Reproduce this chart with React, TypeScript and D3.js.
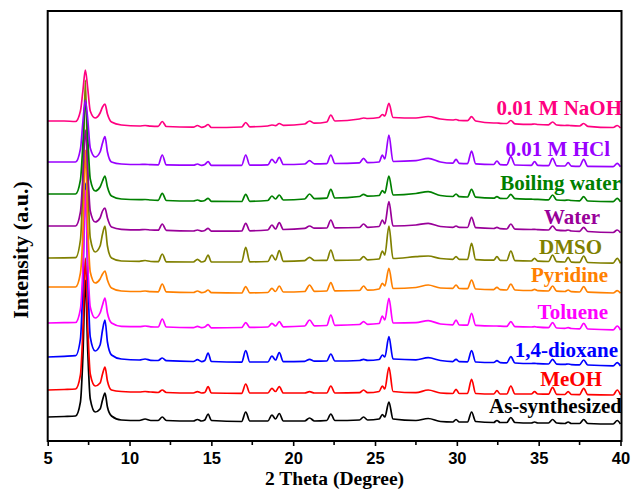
import { useEffect, useRef } from "react";
import * as d3 from "d3";

// 2 theta sample positions shared by every pattern
const theta = [
  5, 6, 6.7, 7.0, 7.15, 7.3, 7.45, 7.6, 7.9, 8.2, 8.35, 8.5, 8.65, 8.9, 9.5,
  10.6, 10.95, 11.3, 11.75, 12.0, 12.25,
  13.9, 14.15, 14.4, 14.6, 14.8, 15.0,
  16.85, 17.1, 17.35,
  18.45, 18.7, 18.92, 19.15, 19.4,
  20.7, 21.0, 21.3,
  22.05, 22.3, 22.55,
  24.05, 24.3, 24.55,
  25.25, 25.45, 25.6, 25.85, 26.1,
  27.5, 28.25, 29.0,
  29.75, 29.95, 30.15,
  30.65, 30.9, 31.15,
  32.25, 32.45, 32.65,
  33.05, 33.3, 33.55,
  34.55, 34.75, 34.95,
  35.6, 35.85, 36.1,
  36.6, 36.8, 37.0,
  37.5, 37.75, 38.0,
  39.55, 39.8, 40.0,
];

// intensities (a.u.), relative to its own offset
const asSynthesized = [0, 0.5, 1, 15, 60, 137, 65, 18, 5, 8, 17, 24, 10, 1, -3,
  -3.5, -2, -3.5, -3.5, 0, -3.5,
  -4, -2.5, -4, -3, 3, -3.5,
  -4.5, 5, -4,
  -4, 2, -2, 3.5, -4,
  -4, -1, -4,
  -3.5, 3, -3.5,
  -3, 0, -3,
  -2, 2.5, 0, 15, -2,
  -3.5, -1.5, -4.5,
  -5, -2.5, -5,
  -5, 5, -4.5,
  -5.5, -3.5, -5.5,
  -5.5, -0.5, -5.5,
  -6, -5, -6,
  -6, -2.5, -6,
  -6.5, -5, -6.5,
  -6.5, -2.5, -6.5,
  -7, -3.5, -7];
const meoh = [0, 0.5, 1, 15, 60, 132, 62, 16, 4, 7, 16, 23, 9, 0, -1.5,
  -2, -1.5, -2, -2.5, 0, -2.5,
  -3, -1.7, -3, -2.5, 3.3, -3,
  -3.3, 6, -3,
  -3, 1.7, -1.5, 3.3, -3,
  -3, -1.7, -3,
  -3, 4, -3,
  -2.7, 0, -2.7,
  -1.5, 4, 1, 22.7, -1.5,
  -2.7, 0, -3,
  -3.5, 0.7, -3.5,
  -3.5, 10.7, -3.5,
  -4, -0.7, -4,
  -4, 4, -4,
  -4, -1.7, -4,
  -4.2, 2.7, -4.3,
  -4.5, -1.7, -4.5,
  -4.6, 1.7, -4.7,
  -5, 0, -5];
const dioxane = [0, 0.7, 1.3, 18, 75, 174, 80, 20, 6, 12, 27, 37, 15, 2, -2,
  -3, -2, -3.3, -3.5, -1, -3.7,
  -4.5, -2.7, -4.6, -3.5, 4, -4.5,
  -5.2, 6.3, -5,
  -5, 1, -3, 4.3, -4.6,
  -4.3, -2.3, -4.2,
  -4, 3, -4,
  -3.5, -2.3, -3.4,
  -2.5, 2, 0, 20.3, -2,
  -2.8, -0.7, -3.5,
  -4.6, -2.3, -4.7,
  -4.8, 6.3, -5,
  -5.5, -3.7, -5.6,
  -5.8, 0.3, -6,
  -6.5, -6.3, -6.7,
  -7, -2.3, -7.1,
  -7.4, -7, -7.6,
  -7.8, -3, -8,
  -8.8, -5.7, -9];
const toluene = [0, 0.3, 0.5, 14, 55, 133, 60, 16, 5, 10, 18, 25, 10, 0, -3.3,
  -3.7, -3, -3.8, -4, 4, -4,
  -4.6, -3.3, -4.7, -4, -1.7, -4.8,
  -4.5, 0.3, -4.4,
  -4, -0.3, -3, 1.3, -3.8,
  -3, 3, -2.8,
  -2.5, 8, -2.3,
  -1.5, 1.3, -1.3,
  -0.5, 7, 3, 24.7, 0,
  0.4, 2.3, -1,
  -1.8, 3, -2,
  -2.2, 9.7, -2.4,
  -3, -3, -3.2,
  -3.4, 1.3, -3.6,
  -4, -3.7, -4.2,
  -4.7, 0.3, -5,
  -5.3, -4.7, -5.5,
  -5.8, -0.3, -6,
  -6.8, -3, -7];
const pyridine = [0, 0, 0, 14, 55, 137, 60, 15, 4, 8, 13, 16, 7, -1, -4,
  -4.5, -4, -4.7, -4.8, 3, -4.9,
  -5.5, -4, -5.6, -5, -3, -5.7,
  -6, 0.3, -5.8,
  -5.5, -1.3, -4.5, 1, -5,
  -4.5, 2, -4.3,
  -4, 4.3, -3.9,
  -3.5, 1, -3.2,
  -2, 3.7, 1, 18.7, -1.5,
  -0.5, 2, -1,
  -1.3, 2, -1.5,
  -1.7, 7, -2,
  -2.6, -0.3, -2.7,
  -3, 3, -3,
  -3.5, -2.3, -3.7,
  -4, 1, -4.2,
  -4.5, -3, -4.7,
  -5, 0.3, -5.2,
  -6, -3.7, -6.3];
const dmso = [0, 0.2, 0.3, 18, 75, 178, 80, 20, 6, 12, 24, 32, 12, 0, -3,
  -3.3, -2.5, -3.5, -3.7, 4, -3.8,
  -4, -1.3, -4, -3, 3, -4,
  -4, 10.7, -3.8,
  -3.5, 3, -2, 7.3, -3.3,
  -2.6, 0.7, -2.5,
  -2.4, 8, -2.3,
  -2, 1.3, -1.8,
  -1, 7, 3, 32, -0.5,
  1.3, 2, -0.5,
  -1.3, 1.3, -1.4,
  -1.5, 14.7, -1.7,
  -2.2, 1.3, -2.3,
  -2.5, 7, -2.7,
  -3, -0.3, -3.2,
  -3.5, 3, -3.7,
  -4, 0.7, -4.2,
  -4.4, 2, -4.5,
  -5.1, -0.3, -5.3];
const water = [0, 0, 0, 14, 50, 96, 55, 15, 4, 8, 15, 18, 8, -1, -3.3,
  -3.8, -3.5, -4, -4.2, 2, -4.3,
  -5, -4, -5.1, -4.5, -2.3, -5.2,
  -5, 2.7, -4.8,
  -4, 1, -3, 3.3, -3.5,
  -2.4, 0, -2.2,
  -2, 6, -1.9,
  -1.5, 2, -1.3,
  -0.5, 6, 2, 24.3, 0,
  1, 2.7, -0.5,
  -1.3, 0, -1.4,
  -1.5, 8.7, -1.7,
  -2.5, -1.3, -2.6,
  -3, 2, -3.1,
  -3.5, -3.3, -3.7,
  -4, 0, -4.2,
  -4.7, -4, -5,
  -5.3, -1.3, -5.5,
  -6.5, -4, -6.7];
const boilingWater = [0, 0, 0, 14, 50, 94, 55, 15, 3, 7, 13, 18, 7, -2, -5,
  -5.7, -5.5, -6, -6.3, 0.7, -6.5,
  -7, -6, -7.2, -6.5, -4.3, -7.3,
  -7.5, -0.3, -7.3,
  -6.5, -2, -5, -1, -6,
  -5, 0, -4.7,
  -4.2, 4.7, -4,
  -2.5, -0.3, -2.2,
  -1.5, 3.3, 1, 18, -1,
  0.5, 2.3, -1.5,
  -2.5, 0, -2.7,
  -3, 4.7, -3.2,
  -4.2, -2.7, -4.3,
  -4.5, -0.3, -4.7,
  -5.2, -5.3, -5.4,
  -5.8, -1, -6,
  -6.3, -6, -6.5,
  -6.8, -2.7, -7,
  -7.6, -4.3, -7.7];
const hcl = [0, 0, 0, 13, 40, 62, 42, 14, 5, 10, 19, 25.3, 10, 0, -2,
  -2.5, -2.3, -2.7, -2.8, 7, -2.9,
  -3.2, -2, -3.3, -2.5, 0.3, -3.4,
  -3.3, 7, -3.2,
  -2.8, 2.7, -1, 4.7, -2.5,
  -2, 1.3, -1.8,
  -1.6, 7, -1.5,
  -0.8, 3.7, -0.6,
  0, 7, 3, 27, 0.5,
  1.3, 3.7, 0,
  -1.2, 2.7, -1.4,
  -1.6, 11, -1.8,
  -2.5, 1, -2.6,
  -2.8, 5.3, -3,
  -3.3, 0.3, -3.4,
  -3.6, 3.7, -3.8,
  -4, -0.7, -4.1,
  -4.3, 2.7, -4.4,
  -4.6, -1.3, -4.7];
const naoh = [0, 0, -0.5, 10, 30, 51, 32, 10, 3, 8, 14, 17, 7, -1, -4,
  -5, -4.5, -5.2, -5.4, -0.5, -5.5,
  -6.2, -4.5, -6.3, -5.5, -3.5, -6.5,
  -6, -1.5, -5.8,
  -5, -4, -4.6, -2.5, -4.3,
  -3, 0, -2.2,
  -1, 6, 0,
  2, 3, 2.5,
  3.5, 6.5, 5, 17.7, 3.5,
  3, 4.5, 2,
  1, 1.5, 0.5,
  0.3, 4.3, 0,
  -2, -2, -2.3,
  -2.5, 0.5, -2.8,
  -3.3, -3, -3.5,
  -3.8, -1, -4,
  -4.5, -4.3, -4.7,
  -5, -2.5, -5.3,
  -6.5, -4.5, -7];

const sampleNames = ["As-synthesized", "MeOH", "1,4-dioxane", "Toluene", "Pyridine", "DMSO", "Water", "Boiling water", "0.01 M HCl", "0.01 M NaOH"];
const patterns = [asSynthesized, meoh, dioxane, toluene, pyridine, dmso, water, boilingWater, hcl, naoh];
// vertical stacking offset of each pattern (a.u.)
const offsets = [24, 51, 84, 118, 154, 183, 215, 247, 279, 320];
const colors = ["#000000", "#ff0000", "#0000ff", "#ff00ff", "#ff8000", "#808000", "#990099", "#008000", "#9900ff", "#ff0080"];

const xTicks = [5, 10, 15, 20, 25, 30, 35, 40];
const xMinor = [7.5, 12.5, 17.5, 22.5, 27.5, 32.5, 37.5];

// label anchors: right edge x and baseline y in px
const labelPos = [[622, 413], [602, 386], [618, 357], [608, 319], [608, 282], [602, 254], [600, 224], [621, 190], [610, 156], [622, 115]];

function App() {
  const ref = useRef<SVGSVGElement>(null);

  useEffect(() => {
    const left = 47.7, right = 621.5, top = 11, bottom = 441;

    const svg = d3.select(ref.current);
    svg.selectAll("*").remove();

    const x = d3.scaleLinear().domain([5, 40]).range([left, right - 1]);
    const y = d3.scaleLinear().domain([0, 430]).range([bottom, top]);

    const g = svg.append("g");

    // patterns
    patterns.forEach((vals, i) => {
      const line = d3.line<number>()
        .x((d, k) => x(theta[k]))
        .y((d) => y(offsets[i] + d))
        .curve(d3.curveMonotoneX);
      g.append("path")
        .attr("d", line(vals))
        .attr("fill", "none")
        .attr("stroke", colors[i])
        .attr("stroke-width", 1.7)
        .attr("stroke-linejoin", "round");
    });

    // labels
    sampleNames.forEach((name, i) => {
      g.append("text")
        .attr("x", labelPos[i][0])
        .attr("y", labelPos[i][1])
        .attr("text-anchor", "end")
        .attr("font-family", "'Liberation Serif', 'Times New Roman', serif")
        .attr("font-weight", "bold")
        .attr("font-size", 21)
        .attr("fill", colors[i])
        .text(name);
    });

    // frame
    svg.append("rect")
      .attr("x", left).attr("y", top)
      .attr("width", right - left).attr("height", bottom - top)
      .attr("fill", "none").attr("stroke", "#000").attr("stroke-width", 2);

    // x axis
    const ax = svg.append("g")
      .attr("transform", `translate(0,${bottom})`)
      .call(d3.axisBottom(x).tickValues(xTicks).tickSize(5).tickSizeOuter(0).tickPadding(6));
    ax.select(".domain").remove();
    ax.selectAll("line").attr("stroke", "#000").attr("stroke-width", 1.6);
    ax.selectAll("text")
      .attr("font-family", "'Liberation Sans', Arial, sans-serif")
      .attr("font-weight", "bold")
      .attr("font-size", 16.5)
      .attr("fill", "#000");

    svg.append("g").selectAll("line")
      .data(xMinor)
      .enter()
      .append("line")
      .attr("x1", (d) => x(d)).attr("x2", (d) => x(d))
      .attr("y1", bottom).attr("y2", bottom + 4)
      .attr("stroke", "#000").attr("stroke-width", 1.6);

    svg.append("text")
      .attr("x", (left + right) / 2)
      .attr("y", 485)
      .attr("text-anchor", "middle")
      .attr("font-family", "'Liberation Serif', 'Times New Roman', serif")
      .attr("font-weight", "bold")
      .attr("font-size", 19.5)
      .text("2 Theta (Degree)");

    svg.append("text")
      .attr("transform", `translate(28,250) rotate(-90)`)
      .attr("text-anchor", "middle")
      .attr("font-family", "'Liberation Serif', 'Times New Roman', serif")
      .attr("font-weight", "bold")
      .attr("font-size", 22)
      .text("Intensity (a.u.)");
  }, []);

  return (
    <div style={{ position: "absolute", left: 0, top: 0, background: "#fff" }}>
      <svg ref={ref} width={637} height={491} style={{ display: "block" }} />
    </div>
  );
}

export default App;
